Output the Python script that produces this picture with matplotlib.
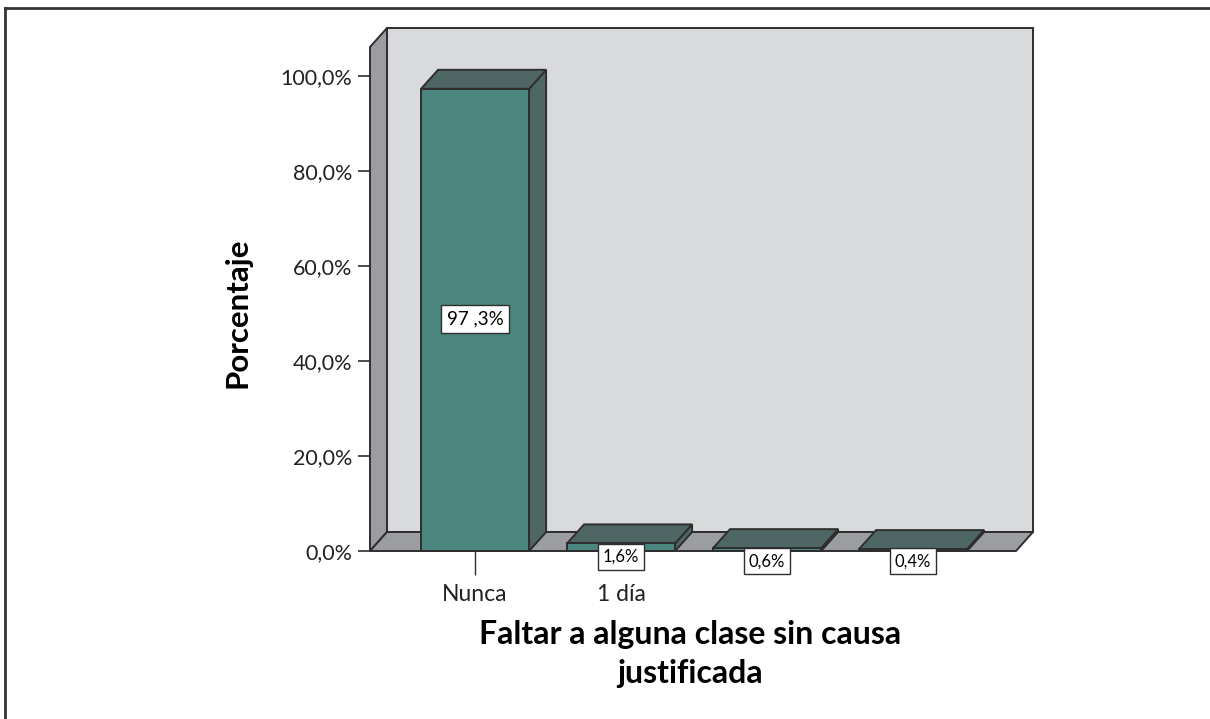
import matplotlib
matplotlib.use("Agg")
import matplotlib.pyplot as plt
from matplotlib.patches import Polygon
from matplotlib.lines import Line2D

# data
categorias = ["Nunca", "1 día", "", ""]
porcentajes = [97.3, 1.6, 0.6, 0.4]
etiquetas = ["97 ,3%", "1,6%", "0,6%", "0,4%"]
yticks = [0, 20, 40, 60, 80, 100]
ytick_labels = ["0,0%", "20,0%", "40,0%", "60,0%", "80,0%", "100,0%"]

plt.rcParams['font.family'] = ['Lato', 'DejaVu Sans']

W, H = 1210, 719
fig = plt.figure(figsize=(W / 100, H / 100), dpi=100)

# frame lines (top and left only)
fig.add_artist(Line2D([4.5 / W, 4.5 / W], [0, 1 - 7.5 / H], transform=fig.transFigure,
                      color="#333333", lw=2))
fig.add_artist(Line2D([4.5 / W, 1], [1 - 7.5 / H, 1 - 7.5 / H], transform=fig.transFigure,
                      color="#333333", lw=2))

# axes = front plane of the 3d box
ax = fig.add_axes([370 / W, (H - 551) / H, (1016 - 370) / W, (551 - 47) / H])
x0, x1 = -0.72, 3.705
ymax = 106.1
ax.set_xlim(x0, x1)
ax.set_ylim(0, ymax)

DX = 17 / 146.0   # depth offset in category units
DY = 4.0          # depth offset in percent units

wall_c = "#d9dadc"
side_c = "#9c9da1"
edge_c = "#2e2e2e"
front_c = "#4a857e"
dark_c = "#4e6764"

def poly(pts, fc, z):
    p = Polygon(pts, closed=True, facecolor=fc, edgecolor=edge_c, lw=1.4,
                clip_on=False, zorder=z, joinstyle="miter")
    ax.add_patch(p)

# back wall, left wall, floor
poly([(x0 + DX, DY), (x1 + DX, DY), (x1 + DX, ymax + DY), (x0 + DX, ymax + DY)], wall_c, 1)
poly([(x0, 0), (x0 + DX, DY), (x0 + DX, ymax + DY), (x0, ymax)], side_c, 2)
poly([(x0, 0), (x1, 0), (x1 + DX, DY), (x0 + DX, DY)], side_c, 2)

# bars
bw = 0.74
for i, v in enumerate(porcentajes):
    l, r = i - bw / 2, i + bw / 2
    poly([(r, 0), (r + DX, DY), (r + DX, v + DY), (r, v)], dark_c, 3)
    poly([(l, v), (r, v), (r + DX, v + DY), (l + DX, v + DY)], dark_c, 3)
    poly([(l, 0), (r, 0), (r, v), (l, v)], front_c, 4)

# value labels
box = dict(boxstyle="square,pad=0.3", facecolor="white", edgecolor=edge_c, lw=1.0)
ax.text(0, 48.8, etiquetas[0], ha="center", va="center", fontsize=13.5, bbox=box, zorder=6)
for i in range(1, 4):
    yoff = -1.2 if i == 1 else -2.2
    ax.text(i, yoff, etiquetas[i], ha="center", va="center", fontsize=12, bbox=box,
            zorder=6, clip_on=False)

# axes styling
for s in ["top", "right", "bottom", "left"]:
    ax.spines[s].set_visible(False)
ax.patch.set_visible(False)

ax.set_yticks(yticks)
ax.set_yticklabels(ytick_labels, fontsize=15.5, color="#222222")
ax.tick_params(axis="y", length=9, width=1.2, color=edge_c, pad=4)

ax.set_xticks(range(len(categorias)))
ax.set_xticklabels(categorias, fontsize=16.5, color="#222222")
ax.tick_params(axis="x", length=17, width=1.0, color=edge_c, pad=7)
for i, t in enumerate(ax.xaxis.get_major_ticks()):
    if i > 0:
        t.tick1line.set_visible(False)

ax.set_ylabel("Porcentaje", fontsize=22.5, fontweight="bold")
ax.set_xlabel("Faltar a alguna clase sin causa\njustificada", fontsize=23,
              fontweight="bold", linespacing=1.4)
ax.xaxis.set_label_coords((690 - 370) / (1016 - 370), -(654 - 551) / (551 - 47))
ax.yaxis.set_label_coords(-(370 - 237) / (1016 - 370), (551 - 313) / (551 - 47))
ax.xaxis.label.set_va("center")
ax.yaxis.label.set_va("center")

fig.savefig("out.png", dpi=100)
